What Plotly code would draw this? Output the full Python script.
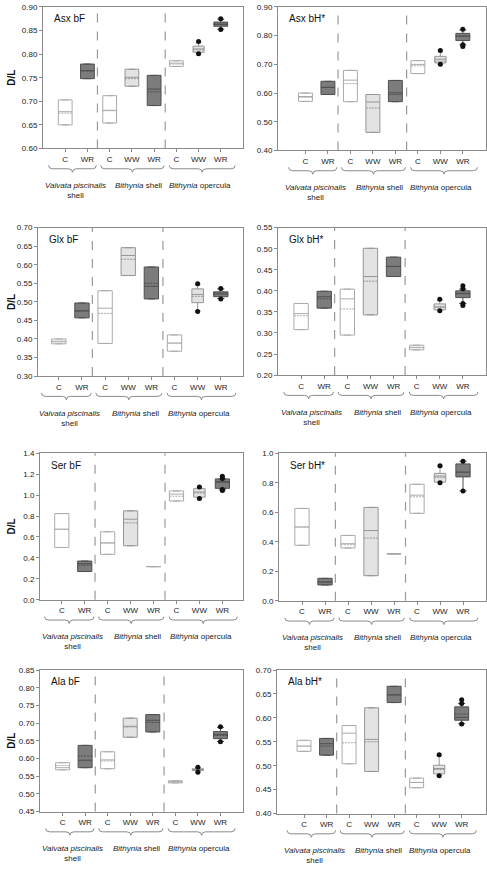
import plotly.graph_objects as go

FIG_W, FIG_H = 487, 869
FONT = "Liberation Sans, Arial, sans-serif"

# ---------------- categories / labels ----------------
POSITIONS = [1, 2, 3, 4, 5, 6, 7, 8]
CATEGORIES = ["C", "WR", "C", "WW", "WR", "C", "WW", "WR"]
GROUP_LABELS = ["<i>Valvata piscinalis</i><br>shell", "<i>Bithynia</i> shell", "<i>Bithynia</i> opercula"]
PANEL_TITLES = ["Asx bF", "Asx bH*", "Glx bF", "Glx bH*", "Ser bF", "Ser bH*", "Ala bF", "Ala bH*"]
Y_TITLE = "D/L"

# ---------------- data ----------------
# Asx bF
asx_bf_q1 = [0.650, 0.748, 0.654, 0.732, 0.691, 0.774, 0.804, 0.859]
asx_bf_med = [0.678, 0.765, 0.681, 0.751, 0.726, 0.781, 0.811, 0.863]
asx_bf_q3 = [0.703, 0.779, 0.712, 0.768, 0.755, 0.786, 0.817, 0.868]
asx_bf_mean = [0.675, 0.764, 0.680, 0.748, 0.720, 0.779, 0.809, 0.864]
asx_bf_lo = [None, None, None, None, None, None, 0.802, 0.853]
asx_bf_hi = [None, None, None, None, None, None, 0.825, 0.874]
asx_bf_out_x = [7, 7, 8, 8]
asx_bf_out_y = [0.827, 0.801, 0.875, 0.852]

# Asx bH*
asx_bh_q1 = [0.571, 0.595, 0.570, 0.463, 0.570, 0.668, 0.705, 0.783]
asx_bh_med = [0.588, 0.620, 0.645, 0.569, 0.601, 0.700, 0.718, 0.799]
asx_bh_q3 = [0.600, 0.641, 0.679, 0.595, 0.644, 0.713, 0.728, 0.808]
asx_bh_mean = [0.585, 0.620, 0.633, 0.548, 0.595, 0.695, 0.711, 0.797]
asx_bh_lo = [None, None, None, None, None, None, 0.701, 0.768]
asx_bh_hi = [None, None, None, None, None, None, 0.746, 0.820]
asx_bh_out_x = [7, 7, 8, 8, 8]
asx_bh_out_y = [0.748, 0.700, 0.822, 0.768, 0.762]

# Glx bF
glx_bf_q1 = [0.387, 0.457, 0.388, 0.571, 0.508, 0.367, 0.498, 0.514]
glx_bf_med = [0.394, 0.476, 0.483, 0.625, 0.542, 0.389, 0.520, 0.521]
glx_bf_q3 = [0.400, 0.497, 0.530, 0.646, 0.594, 0.411, 0.535, 0.527]
glx_bf_mean = [0.392, 0.475, 0.469, 0.615, 0.550, 0.389, 0.515, 0.524]
glx_bf_lo = [None, None, None, None, None, None, 0.476, 0.509]
glx_bf_hi = [None, None, None, None, None, None, 0.546, 0.535]
glx_bf_out_x = [7, 7, 8, 8]
glx_bf_out_y = [0.549, 0.474, 0.536, 0.508]

# Glx bH*
glx_bh_q1 = [0.308, 0.359, 0.295, 0.343, 0.434, 0.260, 0.355, 0.384]
glx_bh_med = [0.346, 0.386, 0.381, 0.434, 0.458, 0.266, 0.362, 0.394]
glx_bh_q3 = [0.370, 0.399, 0.404, 0.501, 0.480, 0.271, 0.369, 0.400]
glx_bh_mean = [0.341, 0.381, 0.357, 0.423, 0.458, 0.265, 0.361, 0.393]
glx_bh_lo = [None, None, None, None, None, None, 0.353, 0.370]
glx_bh_hi = [None, None, None, None, None, None, 0.378, 0.404]
glx_bh_out_x = [7, 7, 8, 8, 8, 8]
glx_bh_out_y = [0.380, 0.353, 0.412, 0.405, 0.370, 0.365]

# Ser bF
ser_bf_q1 = [0.500, 0.270, 0.434, 0.516, 0.317, 0.944, 0.981, 1.065]
ser_bf_med = [0.675, 0.345, 0.545, 0.770, 0.317, 1.010, 1.030, 1.130]
ser_bf_q3 = [0.824, 0.370, 0.650, 0.850, 0.317, 1.040, 1.062, 1.155]
ser_bf_mean = [0.672, 0.330, 0.540, 0.735, 0.317, 0.990, 1.020, 1.120]
ser_bf_lo = [None, None, None, None, None, None, 0.970, 1.050]
ser_bf_hi = [None, None, None, None, None, None, 1.075, 1.160]
ser_bf_out_x = [7, 7, 8, 8, 8, 8]
ser_bf_out_y = [1.078, 0.967, 1.180, 1.160, 1.055, 1.045]

# Ser bH*
ser_bh_q1 = [0.376, 0.107, 0.358, 0.170, 0.318, 0.593, 0.805, 0.840]
ser_bh_med = [0.500, 0.127, 0.387, 0.476, 0.318, 0.716, 0.846, 0.872]
ser_bh_q3 = [0.626, 0.152, 0.443, 0.633, 0.318, 0.790, 0.864, 0.928]
ser_bh_mean = [0.500, 0.127, 0.380, 0.425, 0.318, 0.705, 0.837, 0.872]
ser_bh_lo = [None, None, None, None, None, None, 0.800, 0.745]
ser_bh_hi = [None, None, None, None, None, None, 0.912, 0.946]
ser_bh_out_x = [7, 7, 8, 8]
ser_bh_out_y = [0.915, 0.800, 0.946, 0.745]

# Ala bF
ala_bf_q1 = [0.568, 0.574, 0.571, 0.660, 0.675, 0.531, 0.566, 0.656]
ala_bf_med = [0.574, 0.595, 0.596, 0.691, 0.708, 0.534, 0.569, 0.668]
ala_bf_q3 = [0.588, 0.637, 0.619, 0.714, 0.724, 0.537, 0.571, 0.676]
ala_bf_mean = [0.580, 0.607, 0.593, 0.689, 0.702, 0.534, 0.568, 0.665]
ala_bf_lo = [None, None, None, None, None, None, 0.562, 0.648]
ala_bf_hi = [None, None, None, None, None, None, 0.574, 0.688]
ala_bf_out_x = [7, 7, 8, 8]
ala_bf_out_y = [0.575, 0.561, 0.690, 0.647]

# Ala bH*
ala_bh_q1 = [0.530, 0.522, 0.504, 0.488, 0.632, 0.454, 0.483, 0.595]
ala_bh_med = [0.541, 0.546, 0.568, 0.555, 0.648, 0.465, 0.494, 0.601]
ala_bh_q3 = [0.553, 0.557, 0.584, 0.621, 0.666, 0.474, 0.501, 0.623]
ala_bh_mean = [0.541, 0.541, 0.548, 0.550, 0.648, 0.465, 0.492, 0.608]
ala_bh_lo = [None, None, None, None, None, None, 0.479, 0.588]
ala_bh_hi = [None, None, None, None, None, None, 0.521, 0.630]
ala_bh_out_x = [7, 7, 8, 8, 8]
ala_bh_out_y = [0.523, 0.479, 0.638, 0.630, 0.587]

PANELS = [
    (asx_bf_q1, asx_bf_med, asx_bf_q3, asx_bf_mean, asx_bf_lo, asx_bf_hi, asx_bf_out_x, asx_bf_out_y),
    (asx_bh_q1, asx_bh_med, asx_bh_q3, asx_bh_mean, asx_bh_lo, asx_bh_hi, asx_bh_out_x, asx_bh_out_y),
    (glx_bf_q1, glx_bf_med, glx_bf_q3, glx_bf_mean, glx_bf_lo, glx_bf_hi, glx_bf_out_x, glx_bf_out_y),
    (glx_bh_q1, glx_bh_med, glx_bh_q3, glx_bh_mean, glx_bh_lo, glx_bh_hi, glx_bh_out_x, glx_bh_out_y),
    (ser_bf_q1, ser_bf_med, ser_bf_q3, ser_bf_mean, ser_bf_lo, ser_bf_hi, ser_bf_out_x, ser_bf_out_y),
    (ser_bh_q1, ser_bh_med, ser_bh_q3, ser_bh_mean, ser_bh_lo, ser_bh_hi, ser_bh_out_x, ser_bh_out_y),
    (ala_bf_q1, ala_bf_med, ala_bf_q3, ala_bf_mean, ala_bf_lo, ala_bf_hi, ala_bf_out_x, ala_bf_out_y),
    (ala_bh_q1, ala_bh_med, ala_bh_q3, ala_bh_mean, ala_bh_lo, ala_bh_hi, ala_bh_out_x, ala_bh_out_y),
]

# y-axis settings: (min, max, dtick, format)
Y_AXES = [(0.60, 0.90, 0.05, ".2f"), (0.40, 0.90, 0.10, ".2f"),
          (0.30, 0.70, 0.05, ".2f"), (0.20, 0.55, 0.05, ".2f"),
          (0.0, 1.4, 0.2, ".1f"), (0.0, 1.0, 0.2, ".1f"),
          (0.45, 0.85, 0.05, ".2f"), (0.40, 0.70, 0.05, ".2f")]

# ---------------- layout / style ----------------
PANEL_BOX = [(43, 3, 243, 146), (278, 3, 486, 148),
             (38, 226, 243, 376), (278, 226, 486, 375),
             (40, 454, 243, 602), (279, 454, 486, 603),
             (40, 673, 243, 816), (277, 673, 486, 818)]
X_RANGES = [(0, 9), (-0.22, 9.03), (0.1, 8.96), (0, 9), (0.05, 8.9), (0, 9), (0, 9), (-0.2, 9.08)]
DIVIDERS = [2.45, 5.5]
GROUP_SPANS = [(0.25, 2.4), (2.6, 5.45), (5.68, 8.65)]
GROUP_LABEL_X = [1.45, 4.3, 7.05]
BOX_WIDTHS = [0.62, 0.62, 0.62, 0.62, 0.62, 0.62, 0.5, 0.62]
STYLE = {"C": ("#ffffff", "#ababab"), "WW": ("#e3e3e3", "#969696"), "WR": ("#7c7c7c", "#4f4f4f")}
FLAT_LINE = "#a8a8a8"
FRAME = "#8a8a8a"
TEXT = "#222222"

fig = go.Figure()
layout = dict(width=FIG_W, height=FIG_H, margin=dict(l=0, r=0, t=0, b=0),
              paper_bgcolor="white", plot_bgcolor="white", showlegend=False,
              font=dict(family=FONT, color=TEXT), boxmode="overlay")
shapes, annotations = [], []

for i, data in enumerate(PANELS):
    q1, med, q3, mean, lo, hi, ox, oy = data
    n = i + 1
    xs = "x" if n == 1 else f"x{n}"
    ys = "y" if n == 1 else f"y{n}"
    xk = "xaxis" if n == 1 else f"xaxis{n}"
    yk = "yaxis" if n == 1 else f"yaxis{n}"
    x0p, y0p, x1p, y1p = PANEL_BOX[i]
    wpx, hpx = x1p - x0p, y1p - y0p
    xmin, xmax = X_RANGES[i]
    ymin, ymax, dt, fmt = Y_AXES[i]

    layout[xk] = dict(domain=[x0p / FIG_W, x1p / FIG_W], anchor=ys, range=[xmin, xmax],
                      tickmode="array", tickvals=POSITIONS, ticktext=CATEGORIES,
                      ticks="outside", ticklen=3, tickcolor=FRAME, tickwidth=1,
                      showline=True, mirror=True, linecolor=FRAME, linewidth=1,
                      showgrid=False, zeroline=False, fixedrange=True,
                      tickfont=dict(size=8, color=TEXT, family=FONT))
    layout[yk] = dict(domain=[1 - y1p / FIG_H, 1 - y0p / FIG_H], anchor=xs, range=[ymin, ymax],
                      tick0=ymin, dtick=dt, tickformat=fmt,
                      ticks="outside", ticklen=3, tickcolor=FRAME, tickwidth=1,
                      showline=True, mirror=True, linecolor=FRAME, linewidth=1,
                      showgrid=False, zeroline=False, fixedrange=True,
                      tickfont=dict(size=8, color=TEXT, family=FONT))

    for j in range(len(POSITIONS)):
        kind = CATEGORIES[j]
        fill, lc = STYLE[kind]
        if q1[j] == q3[j]:
            lc = FLAT_LINE
        lf = lo[j] if lo[j] is not None else q1[j]
        uf = hi[j] if hi[j] is not None else q3[j]
        fig.add_trace(go.Box(
            x=[POSITIONS[j]], q1=[q1[j]], median=[med[j]], q3=[q3[j]], mean=[mean[j]],
            lowerfence=[lf], upperfence=[uf], boxmean=True, boxpoints=False,
            orientation="v", width=BOX_WIDTHS[j], whiskerwidth=0.5,
            fillcolor=fill, line=dict(color=lc, width=1),
            xaxis=xs, yaxis=ys, hoverinfo="skip", showlegend=False))

    fig.add_trace(go.Scatter(x=ox, y=oy, mode="markers",
                             marker=dict(size=5, color="#111111"),
                             xaxis=xs, yaxis=ys, hoverinfo="skip", showlegend=False))

    for d in DIVIDERS:
        shapes.append(dict(type="line", xref=xs, yref=f"{ys} domain", x0=d, x1=d, y0=0, y1=1,
                           line=dict(color="#9a9a9a", width=1.2, dash="dash"), layer="below"))

    # braces below the category labels
    yt = -17 / hpx
    yb = -24 / hpx
    ym = (yt + yb) / 2
    curl = 4 / wpx
    for (a, b) in GROUP_SPANS:
        xl = (a - xmin) / (xmax - xmin)
        xr = (b - xmin) / (xmax - xmin)
        xc = (xl + xr) / 2
        path = (f"M {xl},{yt} Q {xl},{ym} {xl + curl},{ym} L {xc - curl},{ym} "
                f"Q {xc},{ym} {xc},{yb} Q {xc},{ym} {xc + curl},{ym} "
                f"L {xr - curl},{ym} Q {xr},{ym} {xr},{yt}")
        shapes.append(dict(type="path", xref=f"{xs} domain", yref=f"{ys} domain", path=path,
                           line=dict(color="#8a8a8a", width=1)))

    for gx, gl in zip(GROUP_LABEL_X, GROUP_LABELS):
        annotations.append(dict(x=gx, y=-31 / hpx, xref=xs, yref=f"{ys} domain",
                                text=gl, showarrow=False, xanchor="center", yanchor="top",
                                font=dict(size=8, color=TEXT, family=FONT)))

    annotations.append(dict(x=9 / wpx, y=1 - 12 / hpx, xref=f"{xs} domain", yref=f"{ys} domain",
                            text=PANEL_TITLES[i], showarrow=False, xanchor="left", yanchor="middle",
                            font=dict(size=10, color="#111111", family=FONT)))

    if i % 2 == 0:
        annotations.append(dict(x=12 / FIG_W, y=0.5, xref="paper", yref=f"{ys} domain",
                                text=f"<b>{Y_TITLE}</b>", showarrow=False, textangle=-90,
                                xanchor="center", yanchor="middle",
                                font=dict(size=10, color="#111111", family=FONT)))

layout["shapes"] = shapes
layout["annotations"] = annotations
fig.update_layout(**layout)
fig.write_html("out.html", config={"displayModeBar": False},
               post_script="document.body.style.margin='0';document.body.style.overflow='hidden';")
